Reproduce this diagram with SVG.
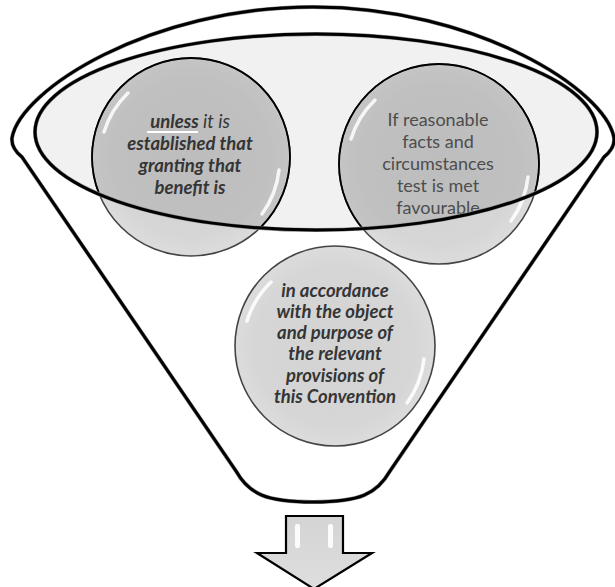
<svg xmlns="http://www.w3.org/2000/svg" width="615" height="587" viewBox="0 0 615 587">
<defs>
<radialGradient id="ball" cx="50%" cy="50%" r="50%">
<stop offset="0" stop-color="#d3d3d3"/>
<stop offset="0.8" stop-color="#d6d6d6"/>
<stop offset="1" stop-color="#dcdcdc"/>
</radialGradient>
<linearGradient id="arrowFill" x1="0" y1="0" x2="0" y2="1">
<stop offset="0" stop-color="#d4d4d4"/>
<stop offset="1" stop-color="#dedede"/>
</linearGradient>
<filter id="soft" x="-5%" y="-5%" width="110%" height="110%">
<feGaussianBlur stdDeviation="0.6"/>
</filter>
<clipPath id="inner">
<ellipse cx="316" cy="132" rx="281" ry="98"/>
</clipPath>
</defs>
<style>
.ball{fill:url(#ball);stroke:#444;stroke-width:1.6}
.shade{fill:#000;fill-opacity:0.1;stroke:#000;stroke-width:1.8}
.hl{fill:none;stroke:#ffffff;stroke-width:3.5;stroke-linecap:round;opacity:0.85}
.bi{font-family:Lato,"Open Sans","Liberation Sans",sans-serif;font-style:italic;font-weight:bold;font-size:18.5px;fill:#353535;text-anchor:middle}
.rg{font-family:Lato,"Open Sans","Liberation Sans",sans-serif;font-size:18px;fill:#4d4d4d;text-anchor:middle}
.edge{fill:none;stroke:#000;stroke-width:3}
</style>
<rect width="615" height="587" fill="#ffffff"/>
<g id="funnel">
<path d="M 22,157 Q 11,148 12,138 C 20,90 150,7 313,7 C 476,7 606,90 614,138 Q 615,148 604,157 L 390,471 C 377,494 360,502 313,502 C 266,502 249,494 236,471 Z" fill="#ffffff" stroke="#888" stroke-width="4" filter="url(#soft)"/>
<path d="M 22,157 Q 11,148 12,138 C 20,90 150,7 313,7 C 476,7 606,90 614,138 Q 615,148 604,157 L 390,471 C 377,494 360,502 313,502 C 266,502 249,494 236,471 Z" class="edge"/>
</g>
<g id="ring-fill">
<ellipse cx="316" cy="132" rx="281" ry="98" fill="#f1f1f1"/>
</g>
<g id="node-unless">
<circle cx="191" cy="157" r="99" class="ball"/>
<circle cx="191" cy="157" r="99" class="shade" clip-path="url(#inner)"/>
<path d="M 104,132 A 91,91 0 0 1 128,93" class="hl"/>
<path d="M 279,170 A 91,91 0 0 1 262,214" class="hl"/>
<text class="bi" x="190" y="128"><tspan>unless</tspan><tspan font-weight="normal"> it is</tspan></text>
<line x1="147" y1="132" x2="198" y2="132" stroke="#ffffff" stroke-width="2.2"/>
<text class="bi" x="190" y="150">established that</text>
<text class="bi" x="190" y="172">granting that</text>
<text class="bi" x="190" y="194">benefit is</text>
</g>
<g id="node-reasonable">
<circle cx="439" cy="164" r="100" class="ball"/>
<circle cx="439" cy="164" r="100" class="shade" clip-path="url(#inner)"/>
<path d="M 351,139 A 92,92 0 0 1 375,100" class="hl"/>
<path d="M 528,177 A 92,92 0 0 1 511,221" class="hl"/>
<text class="rg" x="438" y="126">If reasonable</text>
<text class="rg" x="438" y="148">facts and</text>
<text class="rg" x="438" y="170">circumstances</text>
<text class="rg" x="438" y="192">test is met</text>
<text class="rg" x="438" y="214">favourable</text>
</g>
<g id="ring">
<ellipse cx="316" cy="132" rx="281" ry="98" fill="none" stroke="#888" stroke-width="4" filter="url(#soft)"/>
<ellipse cx="316" cy="132" rx="281" ry="98" class="edge"/>
</g>
<g id="node-accordance">
<circle cx="335" cy="346" r="100" class="ball"/>
<path d="M 247,321 A 92,92 0 0 1 271,282" class="hl"/>
<path d="M 424,359 A 92,92 0 0 1 407,403" class="hl"/>
<text class="bi" x="335" y="297">in accordance</text>
<text class="bi" x="335" y="318">with the object</text>
<text class="bi" x="335" y="339">and purpose of</text>
<text class="bi" x="335" y="360">the relevant</text>
<text class="bi" x="335" y="382">provisions of</text>
<text class="bi" x="335" y="403">this Convention</text>
</g>
<g id="connectors">
<path d="M 286,516 L 343,516 L 343,553 L 372,553 L 314,589 L 257,553 L 286,553 Z" fill="url(#arrowFill)" stroke="#000" stroke-width="2.2" stroke-linejoin="miter"/>
<rect x="295" y="524" width="5" height="24" rx="2" fill="#fff" opacity="0.9"/>
<rect x="328" y="524" width="5" height="24" rx="2" fill="#fff" opacity="0.9"/>
</g>
</svg>
